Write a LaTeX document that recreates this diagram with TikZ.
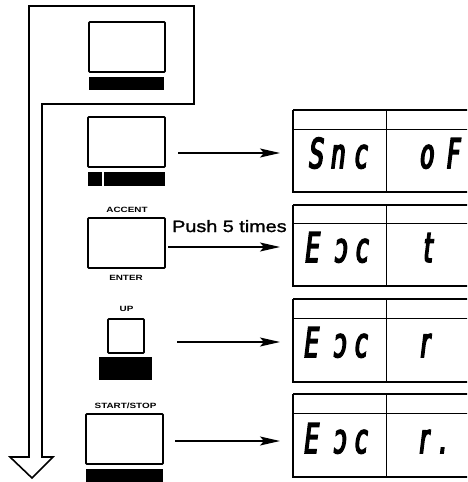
\documentclass[tikz,border=0pt]{standalone}
\usepackage{fontspec}
\setmainfont{Liberation Sans}
\newfontfamily\lblfont[FakeStretch=1.3]{Liberation Sans}
\newfontfamily\pushfont[FakeStretch=1.2,FakeBold=1.5]{Liberation Sans}
\newfontfamily\segfont[FakeStretch=0.55,FakeSlant=0.12,FakeBold=4]{DejaVu Sans}
\usetikzlibrary{arrows.meta}
\tikzset{
  btn/.style={draw, line width=1.8pt, rounded corners=0.8pt, inner sep=0pt},
  bar/.style={fill=black, draw=none, inner sep=0pt},
  lbl/.style={inner sep=0pt, font=\lblfont\bfseries\fontsize{7.6}{8}\selectfont},
  seg/.style={inner sep=0pt, anchor=base, font=\segfont\fontsize{41}{41}\selectfont},
  arr/.style={line width=1.3pt, -{Stealth[length=20pt,width=9pt,inset=4pt]}},
  bigarrow/.style={line width=1.6pt, line join=miter},
  pout/.style={line width=1.8pt},
  pin/.style={line width=0.9pt},
}
\begin{document}
\begin{tikzpicture}[x=1pt,y=-1pt]
\useasboundingbox (0,0) rectangle (467,482);
\begin{scope}
\clip (0,0) rectangle (467,482);

% big hollow arrow
\draw[bigarrow] (29,6) -- (194,6) -- (194,104) -- (42,104) -- (42,457) -- (53,457)
  -- (32,478) -- (10,457) -- (29,457) -- cycle;

% buttons
\node[btn, minimum width=76pt, minimum height=50pt] (b1) at (127,47) {};
\node[bar, minimum width=75pt, minimum height=13pt] (b1bar) at (126.5,83.5) {};

\node[btn, minimum width=77pt, minimum height=50pt] (b2) at (126.5,142) {};
\node[bar, minimum width=14pt, minimum height=14pt] (b2bara) at (95,179) {};
\node[bar, minimum width=61pt, minimum height=14pt] (b2barb) at (134.5,179) {};

\node[lbl] (accent) at (127,209.5) {ACCENT};
\node[btn, minimum width=77pt, minimum height=50pt] (b3) at (126.5,243) {};
\node[lbl] (enter) at (126,277.5) {ENTER};

\node[lbl] (up) at (126.5,309) {UP};
\node[btn, minimum width=36pt, minimum height=34pt] (b4) at (126,336) {};
\node[bar, minimum width=53pt, minimum height=23pt] (b4bar) at (125.5,368.5) {};

\node[lbl] (startstop) at (125.5,405.5) {START/STOP};
\node[btn, minimum width=77pt, minimum height=50pt] (b5) at (124.5,439) {};
\node[bar, minimum width=77pt, minimum height=16pt] (b5bar) at (124.5,477) {};

% display panels
\foreach \t/\m/\b in {110/129/192, 205/223/286, 299/318/382, 394/413/477}{
  \draw[pout] (293,\t) -- (475,\t);
  \draw[pin] (293,\m) -- (475,\m);
  \draw[pout] (292,\b) -- (475,\b);
  \draw[line width=1.1pt] (293,\t) -- (293,\b);
  \draw[pin] (386,\t) -- (386,\b);
}

% display texts
\node[seg] (d1a) at (315,168) {S};
\node[seg] (d1b) at (337,168) {n};
\node[seg] (d1c) at (360,168) {c};
\node[seg] (d1d) at (426,168) {o};
\node[seg] (d1e) at (452,168) {F};

\node[seg] (d2a) at (311,262) {E};
\node[seg] (d2b) at (340,262) {ɔ};
\node[seg] (d2c) at (361,262) {c};
\node[seg] (d2d) at (427,262) {t};

\node[seg] (d3a) at (310,357) {E};
\node[seg] (d3b) at (339,357) {ɔ};
\node[seg] (d3c) at (360,357) {c};
\node[seg] (d3d) at (424,357) {r};

\node[seg] (d4a) at (310,453) {E};
\node[seg] (d4b) at (339,453) {ɔ};
\node[seg] (d4c) at (360,453) {c};
\node[seg] (d4d) at (423,453) {r};
\node[seg] (d4e) at (442,453) {.};

% push label
\node[inner sep=0pt, anchor=base west, font=\pushfont\fontsize{16.5}{17}\selectfont] (push) at (172,232) {Push 5 times};

% arrows
\coordinate (s1) at (178,153); \coordinate (e1) at (280,153);
\coordinate (s2) at (168,247); \coordinate (e2) at (280,247);
\coordinate (s3) at (177,342); \coordinate (e3) at (280,342);
\coordinate (s4) at (175,441); \coordinate (e4) at (280,441);
\draw[arr] (s1) -- (e1);
\draw[arr] (s2) -- (e2);
\draw[arr] (s3) -- (e3);
\draw[arr] (s4) -- (e4);
\end{scope}
\end{tikzpicture}
\end{document}
